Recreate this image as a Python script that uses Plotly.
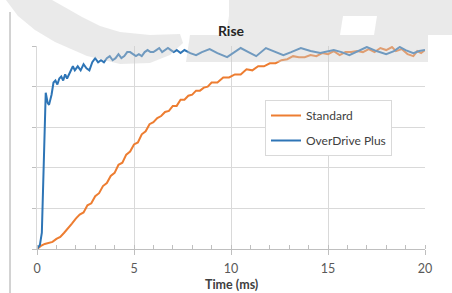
import plotly.graph_objects as go

# ---- data ----
std_t = [0, 0.2, 0.4, 0.6, 0.8, 1.0, 1.2, 1.4, 1.6, 1.8, 2.0, 2.2, 2.4, 2.6, 2.8, 3.0, 3.2, 3.4, 3.6, 3.8,
         4.0, 4.2, 4.4, 4.6, 4.8, 5.0, 5.2, 5.4, 5.6, 5.8, 6.0, 6.2, 6.4, 6.6, 6.8, 7.0, 7.2, 7.4, 7.6, 7.8,
         8.0, 8.2, 8.4, 8.6, 8.8, 9.0, 9.3, 9.6, 9.9, 10.2, 10.5, 10.8, 11.1, 11.4, 11.7, 12.0, 12.3, 12.6,
         12.9, 13.2, 13.5, 13.8, 14.1, 14.4, 14.7, 15.0, 15.3, 15.6, 15.9, 16.2, 16.5, 16.8, 17.1, 17.4,
         17.7, 18.0, 18.3, 18.5, 18.8, 19.1, 19.4, 19.6, 19.8, 20.0]
std_v = [0, 1.5, 2.5, 3, 3.5, 5, 6, 8, 10, 12.5, 15, 17, 18, 21.5, 22.5, 26, 27.5, 31, 32.5, 36,
         37.5, 41.5, 42.5, 46.5, 48, 51.5, 52.5, 56.5, 58, 61.5, 62.5, 64.5, 65.5, 67.5, 68, 70.5, 70.5, 73.5, 73.5, 75.5,
         76, 78, 78, 79.5, 80, 82, 82, 84.5, 84.5, 86, 86, 88.5, 88, 90, 90, 91.5, 91.5, 93,
         93.5, 95, 94.5, 94.5, 95.5, 95, 96.5, 96, 97.5, 95.5, 97, 97, 97.5, 97, 98.5, 97,
         99, 98, 99.5, 97.5, 98.5, 96, 95, 97.5, 96.5, 98]

odp_t = [0, 0.15, 0.25, 0.35, 0.45, 0.55, 0.62, 0.75, 0.85, 0.95, 1.05, 1.15, 1.25, 1.35, 1.45, 1.55,
         1.7, 1.85, 1.95, 2.1, 2.25, 2.4, 2.55, 2.7, 2.85, 3.0, 3.15, 3.3, 3.45, 3.6, 3.75, 3.9, 4.05,
         4.2, 4.35, 4.5, 4.65, 4.8, 4.95, 5.1, 5.25, 5.4, 5.55, 5.7, 5.85, 6.0, 6.15, 6.3, 6.45, 6.6,
         6.75, 6.9, 7.05, 7.2, 7.4, 7.6, 7.9, 8.2, 8.5, 8.9, 9.3, 9.8, 10.2, 10.5, 10.9, 11.3, 11.8,
         12.2, 12.7, 13.1, 13.6, 14.1, 14.6, 15.3, 15.7, 16.1, 16.6, 17.0, 17.5, 18.0, 18.4, 18.7,
         19.0, 19.4, 19.7, 20.0]
odp_v = [0, 2, 8, 40, 77, 72, 71, 76, 82, 83, 81, 84, 85, 83, 86, 84,
         87, 90, 88, 90, 88, 91, 89, 88, 92, 94, 92, 93, 92, 94, 95, 93, 94,
         96, 94, 95, 97, 97, 96, 95, 96, 95, 97, 98, 97, 97, 98, 99, 97, 98,
         99, 98, 97, 98, 96.5, 98, 96.5, 95.5, 97, 98.5, 96.5, 94.5, 97, 99, 97, 95, 99,
         97.5, 95.5, 97, 99, 97.5, 96.5, 98, 97, 95.5, 97.5, 99.5, 97.5, 96, 97.5, 99.5,
         98, 96.5, 97.5, 98]

series_names = ["Standard", "OverDrive Plus"]
series_colors = ["#ED7D31", "#2E75B6"]
x_ticks = [0, 5, 10, 15, 20]

FONT = "Lato, 'Open Sans', sans-serif"
W, H = 452, 293
L, R, T, B = 37, 27, 46, 44
PW, PH = W - L - R, H - T - B


def px(x, y):
    """page pixel -> paper coords"""
    return (x - L) / PW, (H - B - y) / PH


def path(points):
    s = ""
    for i, (x, y) in enumerate(points):
        u, v = px(x, y)
        s += ("M" if i == 0 else "L") + f"{u:.4f},{v:.4f} "
    return s + "Z"


fig = go.Figure()
fig.add_trace(go.Scatter(x=std_t, y=std_v, mode="lines", name=series_names[0],
                         legendgroup="a", line=dict(color=series_colors[0], width=2)))
fig.add_trace(go.Scatter(x=odp_t, y=odp_v, mode="lines", name=series_names[1],
                         legendgroup="b", line=dict(color=series_colors[1], width=2)))

wm = dict(type="path", xref="paper", yref="paper", layer="above",
          fillcolor="rgb(205,205,205)", opacity=0.42, line=dict(width=0))
crescent = [(6, 0), (18, 16), (35, 30), (55, 42), (87, 56), (120, 64), (150, 63), (170, 55), (183, 43),
            (180, 34), (150, 35), (120, 32), (100, 26), (82, 17), (68, 9), (52, 0)]
top_bar = [(229, 0), (452, 0), (452, 16), (229, 16)]
mid_left = [(229, 16), (343, 16), (340, 35), (226, 35)]
mid_right = [(377, 16), (452, 16), (452, 35), (374, 35)]
low_bar = [(190, 35), (428, 35), (428, 62), (186, 62)]
shapes = [dict(wm, path=path(p)) for p in (crescent, top_bar, mid_left, mid_right, low_bar)]
u0, v0 = px(10, 12)
u1, v1 = px(10, 293)
shapes.append(dict(type="line", xref="paper", yref="paper", x0=u0, x1=u1, y0=v0, y1=v1,
                   line=dict(color="#a6a6a6", width=1)))

fig.update_layout(
    width=W, height=H,
    margin=dict(l=L, r=R, t=T, b=B, autoexpand=False),
    paper_bgcolor="white", plot_bgcolor="white",
    font=dict(family=FONT, size=12, color="#595959"),
    title=dict(text="<b>Rise</b>", x=(L + PW / 2) / W, xanchor="center", y=1 - 31 / H, yanchor="middle",
               font=dict(family=FONT, size=14, color="#262626")),
    showlegend=True,
    legend=dict(x=px(265, 0)[0], y=px(0, 100)[1], xanchor="left", yanchor="top",
                bgcolor="white", bordercolor="#d9d9d9", borderwidth=1,
                font=dict(family=FONT, size=12, color="#404040"),
                traceorder="grouped", tracegroupgap=6),
    shapes=shapes,
    annotations=[dict(text="<b>Time (ms)</b>", xref="paper", yref="paper", x=0.5, y=px(0, 284)[1],
                      xanchor="center", yanchor="middle", showarrow=False,
                      font=dict(family=FONT, size=12.5, color="#404040"))],
)
fig.update_xaxes(range=[0, 20], tickvals=x_ticks, ticktext=[str(v) for v in x_ticks],
                 automargin=False,
                 showgrid=True, gridcolor="#d9d9d9", gridwidth=1,
                 showline=True, linecolor="#bfbfbf", linewidth=1,
                 ticks="outside", ticklen=5, tickcolor="#bfbfbf", ticklabelstandoff=3,
                 minor=dict(dtick=1, ticks="inside", ticklen=4, tickcolor="#bfbfbf", showgrid=False),
                 zeroline=False, tickfont=dict(size=12.5, color="#595959"))
fig.update_yaxes(range=[0, 100], dtick=20, showticklabels=False, automargin=False,
                 showgrid=True, gridcolor="#d9d9d9", gridwidth=1,
                 showline=True, linecolor="#d9d9d9", linewidth=1,
                 ticks="outside", ticklen=4, tickcolor="#bfbfbf", zeroline=False)

fig.write_html("out.html", config={"displayModeBar": False},
               post_script="document.body.style.margin='0';")
